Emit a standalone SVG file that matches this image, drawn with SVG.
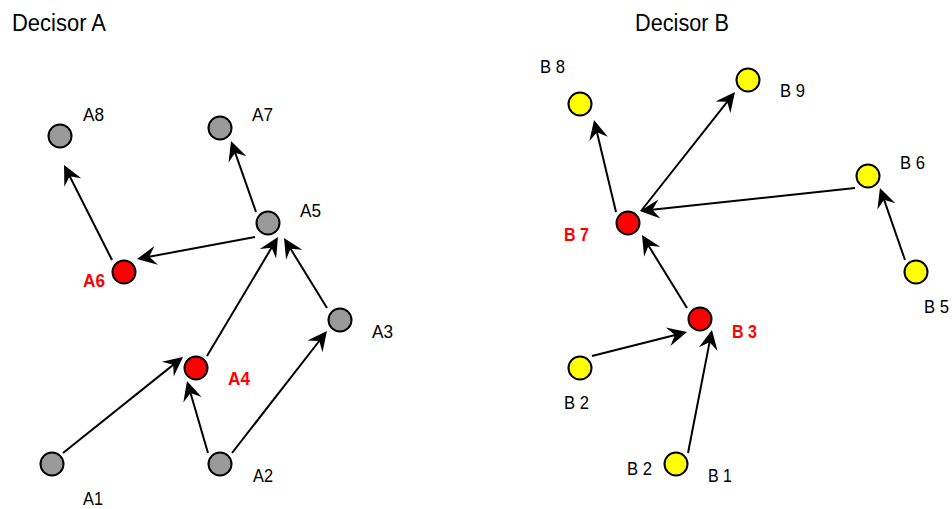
<svg xmlns="http://www.w3.org/2000/svg" width="952" height="509" viewBox="0 0 952 509">
<style>
.t{font-family:"Liberation Sans",Arial,sans-serif;font-size:18.5px;fill:#000}
.r{font-family:"Liberation Sans",Arial,sans-serif;font-size:18.5px;font-weight:bold;fill:#ff0000}
.h{font-family:"Liberation Sans",Arial,sans-serif;font-size:23.5px;fill:#000}
.g{fill:#999999;stroke:#000;stroke-width:2}
.red{fill:#ff0000;stroke:#000;stroke-width:2}
.y{fill:#ffff00;stroke:#000;stroke-width:2}
.e{stroke:#000;stroke-width:2;fill:none;marker-end:url(#ah)}
</style>
<defs>
<marker id="ah" markerUnits="userSpaceOnUse" viewBox="-16 -11 23 22" refX="0" refY="0" markerWidth="23" markerHeight="22" orient="auto">
<path d="M5,0 L-14.5,-9.5 L-7.5,0 L-14.5,9.5 Z" fill="#000"/>
</marker>
</defs>
<rect width="952" height="509" fill="#fff"/>
<text class="h" x="12" y="31" textLength="94" lengthAdjust="spacingAndGlyphs">Decisor A</text>
<text class="h" x="635" y="31" textLength="94" lengthAdjust="spacingAndGlyphs">Decisor B</text>
<g id="connectors">
<line class="e" x1="112" y1="260" x2="66.3" y2="169.5"/>
<line class="e" x1="256" y1="212" x2="232.7" y2="145.7"/>
<line class="e" x1="255" y1="237" x2="141.9" y2="258.1"/>
<line class="e" x1="207" y1="356" x2="275.4" y2="241.3"/>
<line class="e" x1="327" y1="308" x2="286.6" y2="242.3"/>
<line class="e" x1="63" y1="453" x2="179.1" y2="360.1"/>
<line class="e" x1="208" y1="453" x2="188.4" y2="385.8"/>
<line class="e" x1="232" y1="453" x2="323.9" y2="335"/>
<line class="e" x1="616" y1="212" x2="595.2" y2="124.9"/>
<line class="e" x1="641" y1="211" x2="731.9" y2="95.9"/>
<line class="e" x1="855" y1="188" x2="645" y2="210.5"/>
<line class="e" x1="905" y1="260" x2="881.6" y2="192.7"/>
<line class="e" x1="687" y1="308" x2="644.6" y2="239.3"/>
<line class="e" x1="592" y1="356" x2="682.2" y2="333.2"/>
<line class="e" x1="688" y1="453" x2="711" y2="334.9"/>
</g>
<g id="A8"><circle class="g" cx="60" cy="136" r="11.5"/><text class="t" x="83" y="121" textLength="21" lengthAdjust="spacingAndGlyphs">A8</text></g>
<g id="A7"><circle class="g" cx="220" cy="128" r="11.5"/><text class="t" x="252" y="121" textLength="21" lengthAdjust="spacingAndGlyphs">A7</text></g>
<g id="A5"><circle class="g" cx="268" cy="223" r="11.5"/><text class="t" x="300" y="217" textLength="21" lengthAdjust="spacingAndGlyphs">A5</text></g>
<g id="A6"><circle class="red" cx="124" cy="272" r="11.5"/><text class="r" x="83" y="287" textLength="22" lengthAdjust="spacingAndGlyphs">A6</text></g>
<g id="A3"><circle class="g" cx="340" cy="320" r="11.5"/><text class="t" x="372" y="338" textLength="21" lengthAdjust="spacingAndGlyphs">A3</text></g>
<g id="A4"><circle class="red" cx="196" cy="368" r="11.5"/><text class="r" x="228" y="385" textLength="22" lengthAdjust="spacingAndGlyphs">A4</text></g>
<g id="A1"><circle class="g" cx="52" cy="464" r="11.5"/><text class="t" x="83" y="505" textLength="20" lengthAdjust="spacingAndGlyphs">A1</text></g>
<g id="A2"><circle class="g" cx="220" cy="464" r="11.5"/><text class="t" x="253" y="482" textLength="20" lengthAdjust="spacingAndGlyphs">A2</text></g>
<g id="B8"><circle class="y" cx="580" cy="104" r="11.5"/><text class="t" x="540" y="73" textLength="25" lengthAdjust="spacingAndGlyphs">B 8</text></g>
<g id="B9"><circle class="y" cx="748" cy="80" r="11.5"/><text class="t" x="780" y="97" textLength="25" lengthAdjust="spacingAndGlyphs">B 9</text></g>
<g id="B6"><circle class="y" cx="868" cy="176" r="11.5"/><text class="t" x="900" y="169" textLength="25" lengthAdjust="spacingAndGlyphs">B 6</text></g>
<g id="B7"><circle class="red" cx="628" cy="223" r="11.5"/><text class="r" x="564" y="241" textLength="25" lengthAdjust="spacingAndGlyphs">B 7</text></g>
<g id="B5"><circle class="y" cx="916" cy="272" r="11.5"/><text class="t" x="924" y="313" textLength="25" lengthAdjust="spacingAndGlyphs">B 5</text></g>
<g id="B3"><circle class="red" cx="700" cy="319" r="11.5"/><text class="r" x="732" y="338" textLength="25" lengthAdjust="spacingAndGlyphs">B 3</text></g>
<g id="B2a"><circle class="y" cx="580" cy="368" r="11.5"/><text class="t" x="564" y="409" textLength="25" lengthAdjust="spacingAndGlyphs">B 2</text></g>
<g id="B1"><circle class="y" cx="676" cy="464" r="11.5"/><text class="t" x="627" y="475" textLength="25" lengthAdjust="spacingAndGlyphs">B 2</text><text class="t" x="708" y="482" textLength="24" lengthAdjust="spacingAndGlyphs">B 1</text></g>
</svg>
